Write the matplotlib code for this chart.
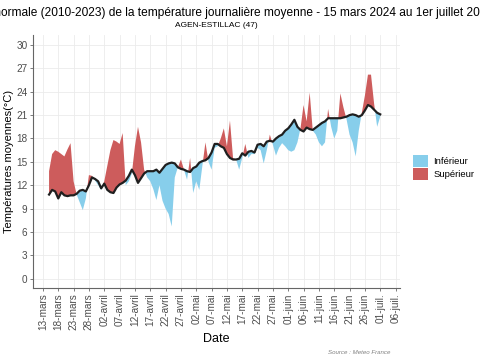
import matplotlib
matplotlib.use("Agg")
import matplotlib.pyplot as plt
import matplotlib.dates as mdates
from matplotlib.patches import Patch
import numpy as np
import pandas as pd

plt.rcParams['font.family'] = ['Liberation Sans', 'DejaVu Sans']

# daily values, 15 mars -> 1 juillet 2024
dates = pd.date_range('2024-03-15', '2024-07-01', freq='D')

normale = [
    10.8, 11.4, 11.2, 10.3, 11.1, 10.7, 10.6, 10.7, 10.7, 10.9,
    11.3, 11.4, 11.2, 12.0, 13.0, 12.8, 12.5, 11.6, 12.2, 11.4,
    11.1, 11.0, 11.7, 12.1, 12.3, 12.6, 13.2, 14.0, 13.3, 12.3,
    12.9, 13.5, 13.8, 13.8, 13.8, 14.0, 13.6, 14.1, 14.6, 14.8,
    14.9, 14.8, 14.3, 14.1, 14.0, 13.8, 13.7, 14.2, 14.4, 14.9,
    15.1, 15.2, 15.5, 16.2, 17.3, 17.3, 17.0, 16.8, 16.0, 15.5,
    15.3, 15.3, 15.4, 16.1, 15.8, 16.3, 16.4, 16.2, 17.2, 17.3,
    17.0, 17.6, 17.7, 17.6, 18.0, 18.3, 18.5, 19.0, 19.3, 19.8,
    20.4, 19.5, 19.1, 18.9, 19.4, 19.2, 19.1, 19.4, 19.7, 20.0,
    20.2, 20.6, 20.6, 20.6, 20.6, 20.6, 20.7, 20.8, 21.0, 21.1,
    21.0, 20.8, 21.0, 21.6, 22.3, 22.1, 21.7, 21.3, 21.1,
]

observe = [
    13.8, 16.0, 16.5, 16.3, 16.0, 15.7, 16.6, 17.4, 12.5, 10.8,
    9.8, 8.8, 10.3, 13.3, 13.2, 12.6, 12.0, 11.4, 12.5, 14.5,
    16.5, 17.8, 17.6, 17.3, 18.7, 12.0, 12.5, 13.5, 17.0, 19.5,
    17.5, 14.0, 13.0, 12.5, 11.5, 10.1, 12.0, 10.0, 9.0, 8.3,
    6.7, 13.0, 14.3, 15.3, 14.0, 12.7, 15.5, 11.0, 12.5, 11.4,
    14.5, 17.5, 15.0, 14.0, 16.8, 17.0, 18.0, 19.3, 17.0, 20.3,
    15.5, 15.3, 14.0, 15.5, 17.3, 15.5, 16.0, 16.0, 16.8, 16.5,
    14.8, 16.5, 18.5, 17.2, 15.8, 16.8, 17.4, 17.0, 16.5, 16.3,
    16.5, 17.5, 19.3, 22.3, 20.2, 23.9, 19.0, 18.5, 17.5, 17.0,
    17.5, 21.8, 19.5, 18.0, 19.0, 23.8, 22.0, 20.5, 18.5, 17.5,
    15.7, 19.0, 21.3, 23.5, 26.2, 26.2, 22.5, 19.5, 20.8,
]

tick_dates = pd.date_range('2024-03-13', '2024-07-06', freq='5D')
mois = {3: 'mars', 4: 'avril', 5: 'mai', 6: 'juin', 7: 'juil.'}
tick_labels = [f"{d.day:02d}-{mois[d.month]}" for d in tick_dates]

BLEU = '#87CEEB'
ROUGE = '#CD5C5C'
GRIS = '#4D4D4D'

x = mdates.date2num(dates)
n = np.array(normale)
o = np.array(observe)

fig = plt.figure(figsize=(4.8, 3.6), dpi=100)
ax = fig.add_axes([0.069, 0.2, 0.764, 0.703])

ax.fill_between(x, n, o, where=o < n, interpolate=True, color=BLEU, lw=0)
ax.fill_between(x, n, o, where=o >= n, interpolate=True, color=ROUGE, lw=0)
ax.plot(x, n, color='#1f1f1f', lw=1.6, solid_joinstyle='round')

x0 = mdates.date2num(pd.Timestamp('2024-03-13'))
ax.set_xlim(x0 - 3.2, x0 + 116.4)
ax.set_ylim(-1.2, 31.3)
ax.set_yticks(range(0, 31, 3))
ax.set_xticks(mdates.date2num(tick_dates))
ax.set_xticklabels(tick_labels, rotation=90)

ax.grid(True, color='#EBEBEB', lw=0.6)
ax.set_axisbelow(True)
for s in ['top', 'right']:
    ax.spines[s].set_visible(False)
for s in ['left', 'bottom']:
    ax.spines[s].set_color('#666666')
    ax.spines[s].set_linewidth(0.8)
ax.tick_params(colors='#666666', length=2.5, width=0.6, labelsize=7.2,
               labelcolor=GRIS, pad=1.5)

ax.set_xlabel('Date', fontsize=9, labelpad=2)
ax.set_ylabel('Températures moyennes(°C)', fontsize=8, labelpad=2)

fig.text(0.452, 0.967,
         "Écart à la normale (2010-2023) de la température journalière moyenne"
         " - 15 mars 2024 au 1er juillet 2024",
         ha='center', va='center', fontsize=8.6)
fig.text(0.451, 0.928, 'AGEN-ESTILLAC (47)', ha='center', va='center',
         fontsize=6)
fig.text(0.813, 0.022, 'Source : Meteo France', ha='right', va='center',
         fontsize=4.4, style='italic', color='#808080')

handles = [Patch(facecolor=BLEU, edgecolor='none', label='Inférieur'),
           Patch(facecolor=ROUGE, edgecolor='none', label='Supérieur')]
fig.legend(handles=handles, loc='center left', bbox_to_anchor=(0.85, 0.535),
           frameon=False, fontsize=6.8, handlelength=1.6, handleheight=1.6,
           handletextpad=0.6, labelspacing=0.1, borderpad=0)

fig.savefig('out.png', dpi=100)
